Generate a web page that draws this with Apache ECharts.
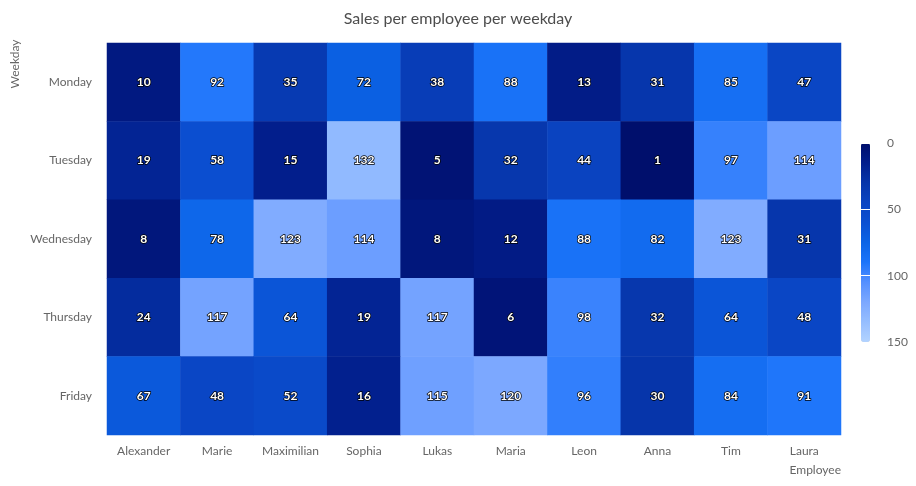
<!DOCTYPE html>
<html>
<head>
<meta charset="utf-8">
<script src="https://cdn.jsdelivr.net/npm/echarts@6/dist/echarts.min.js"></script>
<style>
  html, body { margin: 0; padding: 0; background: #fff; }
  #chart { width: 916px; height: 486px; }
</style>
</head>
<body>
<div id="chart"></div>
<script>
const employees = ['Alexander', 'Marie', 'Maximilian', 'Sophia', 'Lukas', 'Maria', 'Leon', 'Anna', 'Tim', 'Laura']
const weekdays = ['Monday', 'Tuesday', 'Wednesday', 'Thursday', 'Friday']

const monday = [10, 92, 35, 72, 38, 88, 13, 31, 85, 47]
const tuesday = [19, 58, 15, 132, 5, 32, 44, 1, 97, 114]
const wednesday = [8, 78, 123, 114, 8, 12, 88, 82, 123, 31]
const thursday = [24, 117, 64, 19, 117, 6, 98, 32, 64, 48]
const friday = [67, 48, 52, 16, 115, 120, 96, 30, 84, 91]

const colorTicks = [0, 50, 100, 150]

const rows = [monday, tuesday, wednesday, thursday, friday]
const cells = []
rows.forEach((row, y) => {
  row.forEach((v, x) => {
    cells.push([x, y, v])
  })
})

const font = 'Lato, "Open Sans", sans-serif'
const chart = echarts.init(document.getElementById('chart'))

chart.setOption({
  animation: false,
  textStyle: { fontFamily: font },
  title: {
    text: 'Sales per employee per weekday',
    left: 'center',
    top: 6,
    textStyle: { fontFamily: font, fontSize: 16, fontWeight: 'normal', color: '#4d4d4d' }
  },
  grid: [
    { left: 107, right: 75, top: 43, bottom: 51 },
    { left: 861, top: 143, width: 9, height: 199 }
  ],
  xAxis: [{
    type: 'category',
    data: employees,
    name: 'Employee',
    nameLocation: 'end',
    nameGap: 0,
    nameTextStyle: { color: '#666', fontSize: 12, align: 'right', verticalAlign: 'top', padding: [29, 0, 0, 0] },
    axisLine: { show: false },
    axisTick: { show: false },
    axisLabel: { color: '#666', fontSize: 12, margin: 10, interval: 0 },
    splitLine: { show: false }
  }, {
    gridIndex: 1,
    type: 'value',
    show: false
  }],
  yAxis: [{
    type: 'category',
    data: weekdays,
    inverse: true,
    name: 'Weekday',
    nameLocation: 'start',
    nameRotate: 90,
    nameGap: -21,
    nameTextStyle: { color: '#666', fontSize: 12, align: 'center', verticalAlign: 'bottom', padding: [0, 0, 86, 0] },
    axisLine: { show: false },
    axisTick: { show: false },
    axisLabel: { color: '#666', fontSize: 12, margin: 15, interval: 0 },
    splitLine: { show: false }
  }, {
    gridIndex: 1,
    type: 'value',
    min: colorTicks[0],
    max: colorTicks[colorTicks.length - 1],
    interval: 50,
    inverse: true,
    position: 'right',
    z: 10,
    axisLine: { show: false },
    axisTick: { show: false },
    axisLabel: { color: '#666', fontSize: 12, margin: 17 },
    splitLine: { show: true, lineStyle: { color: '#fff', width: 1 } }
  }],
  visualMap: {
    type: 'continuous',
    min: 0,
    max: 150,
    calculable: false,
    inverse: true,
    orient: 'vertical',
    left: 861,
    top: 143,
    itemWidth: 9,
    itemHeight: 199,
    padding: 0,
    text: null,
    showLabel: false,
    seriesIndex: 0,
    inRange: {
      color: ['#000e6a', '#021e8c', '#0635aa', '#0a44c2', '#0b50d2', '#0b64e6', '#1b74fa', '#5590ff', '#7ca8ff', '#96beff', '#b3d3ff']
    }
  },
  series: [{
    type: 'heatmap',
    data: cells,
    label: {
      show: true,
      color: '#fff',
      fontSize: 12,
      fontWeight: 'bold',
      fontFamily: font,
      textBorderColor: '#000',
      textBorderWidth: 1.5
    },
    emphasis: { disabled: true }
  }]
})
</script>
</body>
</html>
